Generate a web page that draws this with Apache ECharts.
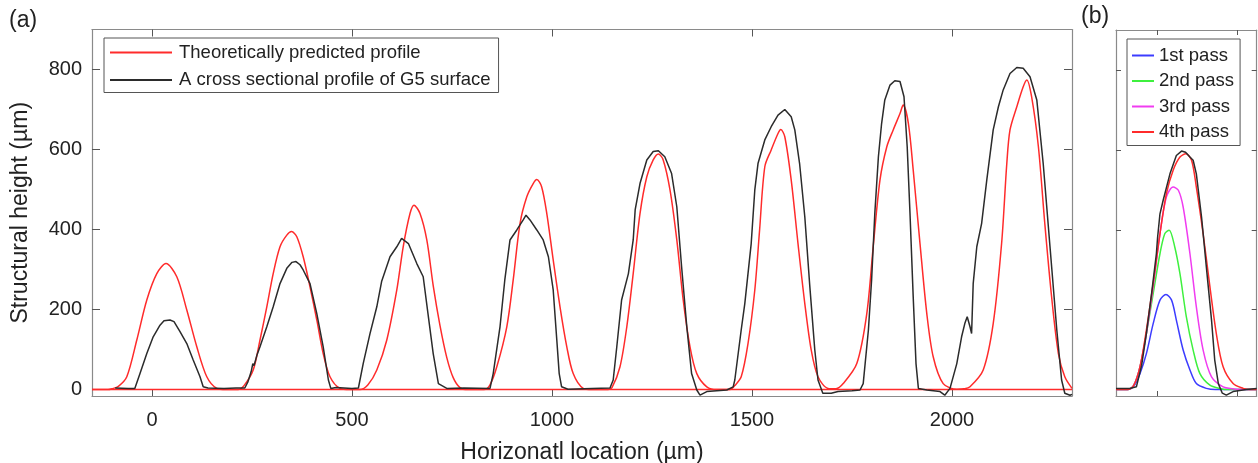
<!DOCTYPE html>
<html>
<head>
<meta charset="utf-8">
<script src="https://cdn.jsdelivr.net/npm/echarts@6/dist/echarts.min.js"></script>
<style>
  html, body { margin: 0; padding: 0; background: #fff; }
  #chart { width: 1258px; height: 463px; }
</style>
</head>
<body>
<div id="chart"></div>
<script>
// panel (a): theoretical profile, [x, y] in µm
const theoryProfile = [
  [-150, 0], [-110, 0], [-100, 2], [-84, 8], [-63, 32], [-38, 124], [-13, 224], [12, 290], [35, 315],
  [62, 282], [87, 199], [112, 107], [137, 32], [162, 3], [185, 0],
  [215, 0], [230, 10], [253, 49], [270, 124], [287, 207], [303, 290], [320, 357], [337, 386], [349, 395],
  [362, 382], [378, 332], [395, 257], [412, 174], [428, 90], [445, 32], [470, 3], [495, 0],
  [520, 0], [540, 12], [562, 49], [587, 124], [612, 249], [628, 357], [645, 440], [655, 461],
  [670, 440], [687, 374], [703, 260], [720, 160], [737, 80], [753, 30], [770, 5], [790, 0],
  [830, 0], [845, 12], [862, 57], [887, 157], [903, 274], [920, 415], [937, 482], [953, 515], [962, 525],
  [974, 507], [987, 440], [1003, 324], [1020, 207], [1037, 107], [1053, 40], [1078, 3], [1100, 0],
  [1140, 0], [1150, 5], [1170, 57], [1187, 157], [1203, 290], [1220, 440], [1237, 532], [1253, 574], [1266, 589],
  [1278, 574], [1295, 499], [1312, 374], [1328, 224], [1345, 107], [1362, 40], [1387, 7], [1412, 0],
  [1445, 0], [1457, 10], [1473, 32], [1490, 115], [1507, 249], [1519, 399], [1532, 557], [1548, 599],
  [1565, 640], [1572, 650], [1582, 632], [1598, 524], [1615, 365], [1632, 215], [1648, 99], [1665, 32], [1690, 3],
  [1710, 2], [1728, 15], [1762, 65], [1787, 190], [1803, 357], [1820, 524], [1837, 607], [1853, 649], [1870, 690],
  [1878, 711], [1891, 665], [1903, 549], [1920, 365], [1937, 190], [1953, 82], [1978, 15], [2012, 1],
  [2030, 2], [2045, 7], [2078, 49], [2103, 165], [2124, 365], [2137, 565], [2145, 649], [2162, 707], [2178, 757],
  [2187, 774], [2199, 732], [2216, 607], [2232, 415], [2249, 232], [2266, 90], [2282, 32], [2300, 3]
];

// red line along zero through the whole window
const theoryBase = [[-150, 0], [2300, 0]];

// panel (a): measured cross section of G5 surface
const measuredProfile = [
  [-92, 4], [-60, 3], [-43, 3], [-30, 40], [-13, 90], [3, 132], [20, 161], [30, 172], [45, 174], [55, 170],
  [70, 145], [87, 115], [103, 74], [120, 32], [128, 7], [140, 4], [180, 3], [210, 4], [232, 4],
  [240, 20], [248, 45], [252, 65], [255, 60], [262, 85], [270, 107], [287, 157], [303, 207], [320, 265],
  [337, 303], [350, 318], [360, 320], [370, 312], [378, 299], [395, 265], [412, 190], [428, 107], [441, 24],
  [447, 3], [460, 5], [500, 3], [516, 4],
  [528, 65], [545, 140], [562, 207], [574, 270], [595, 332], [612, 357], [624, 378], [641, 365], [662, 315],
  [678, 282], [691, 182], [703, 90], [716, 15], [737, 3], [780, 4], [845, 3],
  [853, 40], [870, 157], [882, 274], [895, 374], [912, 399], [928, 424], [935, 436], [945, 424], [962, 399],
  [978, 374], [991, 332], [1003, 249], [1012, 124], [1018, 40], [1024, 7], [1040, 1], [1100, 3], [1145, 4],
  [1153, 24], [1162, 107], [1174, 224], [1191, 290], [1203, 374], [1208, 450], [1220, 515], [1237, 574],
  [1253, 595], [1266, 597], [1282, 582], [1299, 540], [1312, 457], [1324, 307], [1337, 157], [1349, 40],
  [1362, -1], [1370, -14], [1387, -5], [1437, -1], [1453, 7],
  [1457, 24], [1473, 149], [1482, 215], [1498, 365], [1507, 499], [1515, 565], [1532, 624], [1548, 657],
  [1565, 686], [1582, 700], [1598, 682], [1607, 649], [1619, 565], [1632, 432], [1644, 265], [1657, 99],
  [1665, 24], [1677, -9], [1698, -9], [1715, -5], [1750, -3], [1770, -1],
  [1778, 15], [1791, 149], [1799, 274], [1807, 440], [1816, 582], [1824, 665], [1832, 724], [1845, 761],
  [1857, 772], [1862, 768], [1870, 770], [1880, 732], [1888, 607], [1895, 440], [1903, 232], [1910, 65],
  [1916, 3], [1937, -1], [1970, -5], [1982, -14], [1995, 3],
  [2012, 65], [2024, 132], [2032, 165], [2038, 182], [2045, 157], [2049, 140], [2053, 265], [2062, 357],
  [2074, 415], [2087, 524], [2103, 649], [2116, 707], [2128, 749], [2145, 790], [2162, 805], [2178, 803],
  [2195, 782], [2212, 724], [2228, 565], [2245, 357], [2262, 149], [2274, 24], [2282, -9], [2295, -14], [2300, -12]
];

// panel (b): passes over one groove
const pass1 = [
  [1096, 0], [1125, 0], [1140, 8], [1156, 40], [1172, 90], [1189, 165], [1206, 224], [1221, 238], [1235, 224],
  [1247, 174], [1264, 99], [1281, 49], [1297, 15], [1322, 3], [1345, 0], [1448, 0]
];
const pass2 = [
  [1096, 0], [1125, 0], [1140, 10], [1156, 57], [1172, 140], [1189, 240], [1206, 340], [1218, 390], [1229, 399],
  [1243, 357], [1256, 290], [1272, 182], [1289, 99], [1306, 40], [1331, 11], [1356, 3], [1375, 0], [1448, 0]
];
const pass3 = [
  [1096, 0], [1125, 0], [1140, 10], [1156, 57], [1172, 140], [1189, 257], [1206, 390], [1222, 482], [1239, 507],
  [1252, 499], [1264, 457], [1281, 340], [1297, 207], [1314, 99], [1335, 32], [1364, 7], [1389, 2], [1405, 0], [1448, 0]
];
const pass4 = [
  [1096, 0], [1125, 0], [1140, 10], [1156, 57], [1172, 149], [1189, 265], [1206, 390], [1222, 490], [1239, 549],
  [1256, 582], [1271, 590], [1285, 574], [1297, 507], [1314, 390], [1331, 257], [1347, 140], [1364, 57],
  [1389, 15], [1414, 3], [1430, 0], [1448, 0]
];
const passProfile = [
  [1096, 3], [1130, 3], [1147, 7], [1160, 60], [1172, 140], [1185, 240], [1197, 340], [1200, 380], [1203, 375],
  [1206, 440], [1214, 474], [1231, 540], [1247, 586], [1260, 597], [1270, 594], [1281, 582], [1289, 574],
  [1297, 540], [1310, 432], [1322, 307], [1335, 174], [1343, 74], [1352, 15], [1362, -9], [1372, -14],
  [1389, -5], [1422, 0], [1448, 3]
];

const xTicks = [0, 500, 1000, 1500, 2000];
const yTicks = [0, 200, 400, 600, 800];
const bxTicks = [1200, 1400];

const labelFont = 'Liberation Sans, Arial, sans-serif';
const boxColor = '#8a8a8a';
const txt = '#222';

let myChart = echarts.init(document.getElementById('chart'));

function boxAxis(extra) {
    return Object.assign({
        type: 'value',
        splitLine: { show: false },
        axisLine: { show: true, onZero: false, lineStyle: { color: boxColor, width: 1.2 } },
        axisTick: { show: true, inside: true, length: 7, lineStyle: { color: '#555', width: 1 } },
        axisLabel: { show: false }
    }, extra);
}

function lineSeries(name, data, color, xi, yi, smooth) {
    return {
        name: name,
        type: 'line',
        data: data,
        xAxisIndex: xi,
        yAxisIndex: yi,
        showSymbol: false,
        symbol: 'none',
        smooth: smooth ? 0.3 : false,
        lineStyle: { color: color, width: 1.5 },
        itemStyle: { color: color },
        animation: false,
        clip: true
    };
}

let option = {
    backgroundColor: '#fff',
    animation: false,
    textStyle: { fontFamily: labelFont },
    grid: [
        { left: 92, top: 29.5, width: 980, height: 366.5, outerBoundsMode: 'none', containLabel: false },
        { left: 1116, top: 30, width: 140.7, height: 366, outerBoundsMode: 'none', containLabel: false }
    ],
    xAxis: [
        boxAxis({
            gridIndex: 0, position: 'bottom', min: -150, max: 2300,
            axisTick: { show: true, inside: true, length: 7, customValues: xTicks, lineStyle: { color: '#555' } },
            axisLabel: { show: true, customValues: xTicks, margin: 14, color: txt, fontSize: 20, fontFamily: labelFont,
                         formatter: v => String(v) },
            name: 'Horizonatl location (µm)', nameLocation: 'middle', nameGap: 45,
            nameTextStyle: { fontSize: 23, color: txt, fontFamily: labelFont }
        }),
        boxAxis({
            gridIndex: 0, position: 'top', min: -150, max: 2300,
            axisTick: { show: true, inside: true, length: 7, customValues: xTicks, lineStyle: { color: '#555' } }
        }),
        boxAxis({
            gridIndex: 1, position: 'bottom', min: 1096, max: 1448,
            axisTick: { show: true, inside: true, length: 5, customValues: bxTicks, lineStyle: { color: '#555' } }
        }),
        boxAxis({
            gridIndex: 1, position: 'top', min: 1096, max: 1448,
            axisTick: { show: true, inside: true, length: 5, customValues: bxTicks, lineStyle: { color: '#555' } }
        })
    ],
    yAxis: [
        boxAxis({
            gridIndex: 0, position: 'left', min: -16, max: 900,
            axisTick: { show: true, inside: true, length: 8, customValues: yTicks, lineStyle: { color: '#555' } },
            axisLabel: { show: true, customValues: yTicks, margin: 10, color: txt, fontSize: 20, fontFamily: labelFont },
            name: 'Structural height (µm)', nameLocation: 'middle', nameGap: 60,
            nameTextStyle: { fontSize: 23, color: txt, fontFamily: labelFont }
        }),
        boxAxis({
            gridIndex: 0, position: 'right', min: -16, max: 900,
            axisTick: { show: true, inside: true, length: 8, customValues: yTicks, lineStyle: { color: '#555' } }
        }),
        boxAxis({
            gridIndex: 1, position: 'left', min: -16, max: 900,
            axisTick: { show: true, inside: true, length: 5, customValues: yTicks, lineStyle: { color: '#555' } }
        }),
        boxAxis({
            gridIndex: 1, position: 'right', min: -16, max: 900,
            axisTick: { show: true, inside: true, length: 5, customValues: yTicks, lineStyle: { color: '#555' } }
        })
    ],
    legend: [
        {
            data: ['Theoretically predicted profile', 'A cross sectional profile of G5 surface'],
            orient: 'vertical', left: 104, top: 38,
            padding: [5, 8, 3, 6], itemGap: 8.5,
            itemWidth: 62, itemHeight: 2, icon: 'rect',
            borderColor: '#555', borderWidth: 1, backgroundColor: '#fff',
            selectedMode: false,
            textStyle: { fontSize: 18.5, color: txt, fontFamily: labelFont, padding: [0, 0, 0, 2] }
        },
        {
            data: ['1st pass', '2nd pass', '3rd pass', '4th pass'],
            orient: 'vertical', left: 1127, top: 39,
            padding: [7, 6, 4, 5], itemGap: 6.5,
            itemWidth: 22, itemHeight: 2, icon: 'rect',
            borderColor: '#555', borderWidth: 1, backgroundColor: '#fff',
            selectedMode: false,
            textStyle: { fontSize: 18.5, color: txt, fontFamily: labelFont, padding: [0, 0, 0, 0] }
        }
    ],
    graphic: [
        { type: 'text', left: 9, top: 9, style: { text: '(a)', font: '23px ' + labelFont, fill: txt } },
        { type: 'text', left: 1081, top: 5, style: { text: '(b)', font: '23px ' + labelFont, fill: txt } }
    ],
    series: [
        lineSeries('Theoretically predicted profile', theoryProfile, '#ff2b2b', 0, 0, true),
        lineSeries('Theoretically predicted profile', theoryBase, '#ff2b2b', 0, 0, false),
        lineSeries('A cross sectional profile of G5 surface', measuredProfile, '#2b2b2b', 0, 0, false),
        lineSeries('1st pass', pass1, '#3c3cff', 2, 2, true),
        lineSeries('2nd pass', pass2, '#3ef03e', 2, 2, true),
        lineSeries('3rd pass', pass3, '#f03cf0', 2, 2, true),
        lineSeries('4th pass', pass4, '#ff2b2b', 2, 2, true),
        lineSeries('', passProfile, '#2b2b2b', 2, 2, false)
    ]
};

option && myChart.setOption(option);
</script>
</body>
</html>
